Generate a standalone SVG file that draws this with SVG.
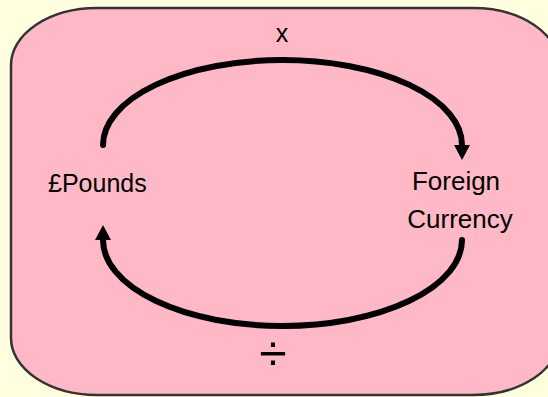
<svg xmlns="http://www.w3.org/2000/svg" width="548" height="397" viewBox="0 0 548 397">
  <style>
    .lbl { font-family: "Comic Sans MS", "Liberation Sans", sans-serif; font-size: 25px; fill: #000; }
    .conn { fill: none; stroke: #000; stroke-width: 6; stroke-linecap: round; }
  </style>
  <defs>
    <marker id="arrow" markerUnits="userSpaceOnUse" markerWidth="15" markerHeight="16" viewBox="0 0 14 15" refX="0" refY="7.5" orient="auto">
      <path d="M0,0 L14,7.5 L0,15 z" fill="#000"/>
    </marker>
  </defs>
  <rect width="548" height="397" fill="#FFFFE0"/>
  <rect id="panel" x="11" y="8" width="548" height="387" rx="86" ry="57" fill="#FFB9C6" stroke="#333" stroke-width="2.5"/>
  <g id="connectors">
    <path class="conn" d="M103,145 A179.5,85 0 0 1 462,145" marker-end="url(#arrow)"/>
    <path class="conn" d="M462,240 A179.5,86 0 0 1 103,240" marker-end="url(#arrow)"/>
    <text class="lbl" x="282" y="42" text-anchor="middle" style="font-size:25px">x</text>
    <text class="lbl" x="273" y="370" text-anchor="middle" style="font-size:50px">÷</text>
  </g>
  <g id="pounds">
    <text class="lbl" x="48" y="192">£Pounds</text>
  </g>
  <g id="foreign">
    <text class="lbl" x="456" y="190" text-anchor="middle" style="font-size:26px">Foreign</text>
    <text class="lbl" x="460" y="228" text-anchor="middle" style="font-size:26px">Currency</text>
  </g>
</svg>
